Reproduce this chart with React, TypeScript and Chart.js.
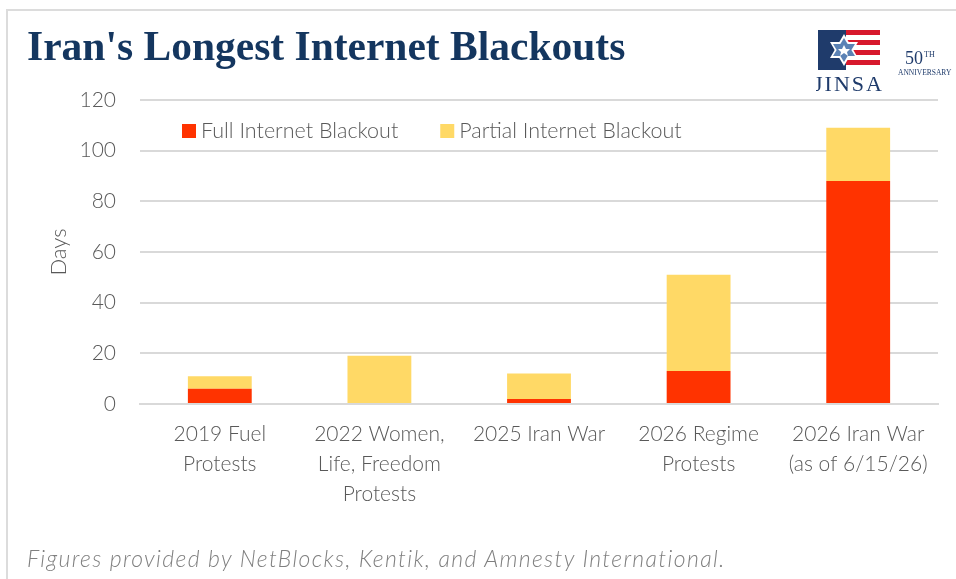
import React, { useEffect, useRef } from "react";
import { Chart, registerables } from "chart.js";

Chart.register(...registerables);

const categories: string[][] = [
  ["2019 Fuel", "Protests"],
  ["2022 Women,", "Life, Freedom", "Protests"],
  ["2025 Iran War"],
  ["2026 Regime", "Protests"],
  ["2026 Iran War", "(as of 6/15/26)"],
];
const fullBlackout = [6, 0, 2, 13, 88];
const partialBlackout = [5, 19, 10, 38, 21];
const seriesNames = ["Full Internet Blackout", "Partial Internet Blackout"];
const seriesColors = ["#FF3300", "#FFD966"];
const yMax = 120;
const yStep = 20;

const FONT = "Lato, 'Open Sans', sans-serif";
const TEXT_COLOR = "#595959";

const legendPlugin = {
  id: "insideLegend",
  afterDraw(chart: any) {
    const ctx = chart.ctx;
    const area = chart.chartArea;
    ctx.save();
    ctx.font = `300 21.5px ${FONT}`;
    ctx.textBaseline = "middle";
    ctx.textAlign = "left";
    let x = area.left + 42;
    const y = area.top + 31;
    chart.data.datasets.forEach((ds: any) => {
      ctx.fillStyle = ds.backgroundColor;
      ctx.fillRect(x, y - 7, 14, 14);
      ctx.fillStyle = TEXT_COLOR;
      ctx.fillText(ds.label, x + 19, y);
      x += 19 + ctx.measureText(ds.label).width + 42;
    });
    ctx.restore();
  },
};

function ChartCanvas() {
  const ref = useRef<HTMLCanvasElement | null>(null);
  useEffect(() => {
    if (!ref.current) return;
    const chart = new Chart(ref.current, {
      type: "bar",
      data: {
        labels: categories as any,
        datasets: [
          {
            label: seriesNames[0],
            data: fullBlackout,
            backgroundColor: seriesColors[0],
            borderWidth: 0,
            barPercentage: 0.4,
            categoryPercentage: 1,
          },
          {
            label: seriesNames[1],
            data: partialBlackout,
            backgroundColor: seriesColors[1],
            borderWidth: 0,
            barPercentage: 0.4,
            categoryPercentage: 1,
          },
        ],
      },
      options: {
        animation: false,
        responsive: false,
        maintainAspectRatio: false,
        layout: { padding: { left: 0, right: 18, top: 100, bottom: 0 } },
        plugins: {
          legend: { display: false },
          tooltip: { enabled: false },
          title: { display: false },
        },
        scales: {
          x: {
            stacked: true,
            grid: { display: false, drawTicks: false },
            border: { display: true, color: "#d9d9d9", width: 2 },
            ticks: {
              color: TEXT_COLOR,
              font: { family: FONT, size: 21, weight: 300 as any, lineHeight: 1.43 },
              padding: 15,
              maxRotation: 0,
              autoSkip: false,
            },
            afterFit: (scale: any) => {
              scale.height = 175;
            },
          },
          y: {
            stacked: true,
            min: 0,
            max: yMax,
            grid: { color: "#d9d9d9", lineWidth: 2, drawTicks: false },
            border: { display: false },
            ticks: {
              stepSize: yStep,
              color: TEXT_COLOR,
              font: { family: FONT, size: 21, weight: 300 as any },
              padding: 24,
            },
            title: {
              display: true,
              text: "Days",
              color: TEXT_COLOR,
              font: { family: FONT, size: 22, weight: 300 as any },
              padding: { top: 46, bottom: 0 },
            },
            afterFit: (scale: any) => {
              scale.width = 140;
            },
          },
        },
      },
      plugins: [legendPlugin],
    });
    return () => chart.destroy();
  }, []);
  return <canvas ref={ref} width={956} height={579} style={{ position: "absolute", left: 0, top: 0 }} />;
}

function Logo() {
  return (
    <div style={{ position: "absolute", left: 816, top: 28, width: 140, height: 66 }}>
      <svg width="140" height="66" viewBox="0 0 140 66">
        <rect x="2" y="2" width="28" height="40" fill="#1f3b6b" />
        <rect x="30" y="2" width="34" height="5" fill="#d7192d" />
        <rect x="30" y="12" width="34" height="5" fill="#d7192d" />
        <rect x="30" y="22" width="34" height="5" fill="#d7192d" />
        <rect x="30" y="32" width="34" height="5" fill="#d7192d" />
        <polygon points="28,6 42,30 14,30" fill="#ffffff" />
        <polygon points="28,38 42,14 14,14" fill="#ffffff" />
        <polygon points="28,10 39,28 17,28" fill="#5b82b5" />
        <polygon points="28,34 39,16 17,16" fill="#5b82b5" />
        <polygon points="28,17 30,21 34,21 31,24 32,28 28,25 24,28 25,24 22,21 26,21" fill="#ffffff" />
        <text x="33" y="63" textAnchor="middle" fontFamily="'Liberation Serif', serif" fontSize="22" fill="#1f3b6b" letterSpacing="2">JINSA</text>
        <text x="89" y="36" fontFamily="'Liberation Serif', serif" fontSize="18" fill="#1f3b6b">50</text>
        <text x="108" y="29" fontFamily="'Liberation Serif', serif" fontSize="8" fill="#1f3b6b">TH</text>
        <text x="82" y="47" fontFamily="'Liberation Serif', serif" fontSize="7.5" fill="#1f3b6b">ANNIVERSARY</text>
      </svg>
    </div>
  );
}

export default function App() {
  return (
    <div style={{ position: "fixed", left: 0, top: 0, width: 956, height: 579, background: "#ffffff", overflow: "hidden" }}>
      <div style={{ position: "absolute", left: 6, top: 9, right: 0, bottom: 0, borderTop: "2px solid #dcdcdc", borderLeft: "2px solid #dcdcdc" }} />
      <ChartCanvas />
      <div
        style={{
          position: "absolute",
          left: 27,
          top: 22,
          fontFamily: "'Liberation Serif', serif",
          fontWeight: "bold",
          fontSize: 41.5,
          color: "#14365f",
          whiteSpace: "nowrap",
          lineHeight: "48px",
        }}
      >
        Iran's Longest Internet Blackouts
      </div>
      <Logo />
      <div
        style={{
          position: "absolute",
          left: 27,
          top: 542,
          fontFamily: "Lato, sans-serif",
          fontStyle: "italic",
          fontWeight: 300,
          fontSize: 23,
          letterSpacing: "1.35px",
          color: "#808080",
          whiteSpace: "nowrap",
          lineHeight: "32px",
        }}
      >
        Figures provided by NetBlocks, Kentik, and Amnesty International.
      </div>
    </div>
  );
}
